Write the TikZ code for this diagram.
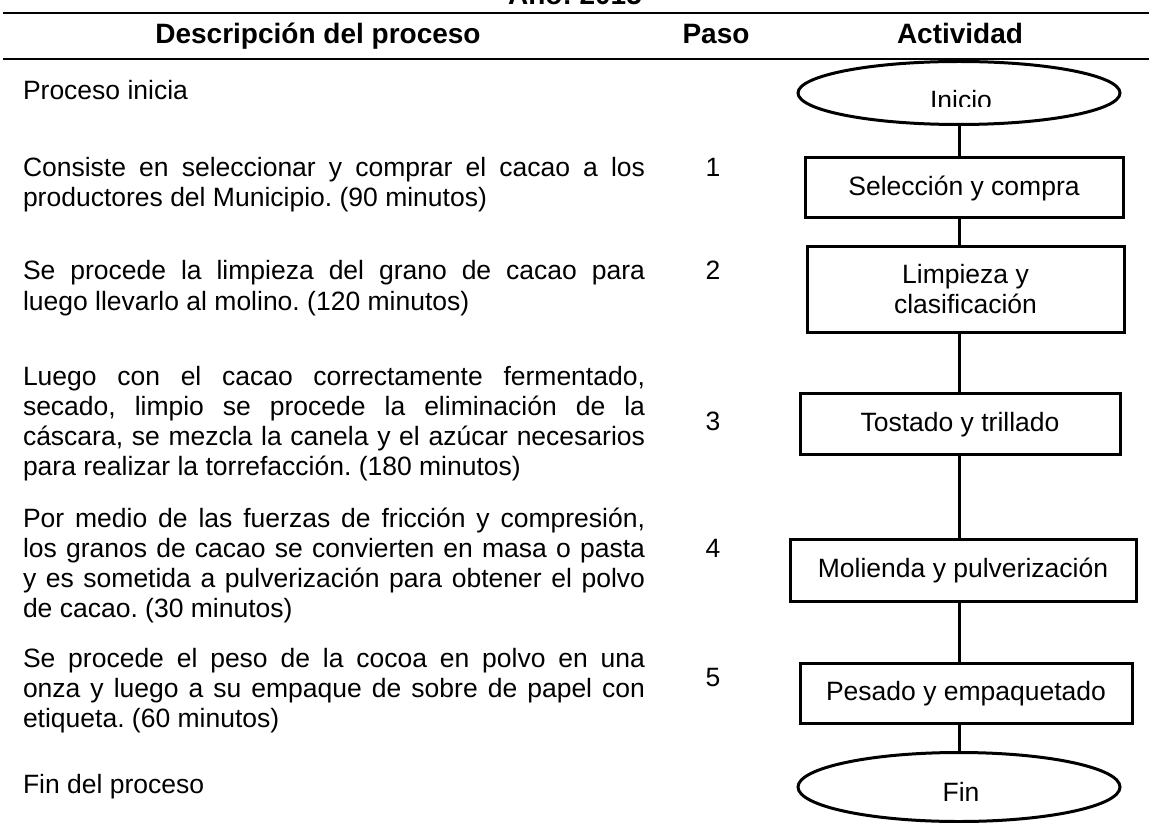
\documentclass[tikz,border=0pt]{standalone}
\usepackage{fontspec}
\setmainfont{Liberation Sans}
\usetikzlibrary{shapes.geometric}
\setlength{\parindent}{0pt}
\frenchspacing
\begin{document}
\begin{tikzpicture}[x=0.5pt,y=-0.5pt,
  every node/.style={font=\fontsize{13.25}{15}\selectfont, inner sep=0pt, outer sep=0pt},
  desc/.style={anchor=north west, text width=311pt, align=justify},
  num/.style={anchor=base},
  hdr/.style={anchor=base, font=\fontsize{14}{16}\selectfont\bfseries},
  plainbox/.style={draw, line width=1.5pt, rectangle, align=center},
  stepbox/.style={plainbox, text height=9.6pt, text depth=2pt},
  term/.style={draw, line width=1.5pt, ellipse, minimum width=161pt, minimum height=31.5pt},
  conn/.style={line width=1.5pt},
  rulel/.style={line width=1pt}]
\useasboundingbox (0,0) rectangle (1149,823);
\clip (0,0) rectangle (1149,823);

% title (cut at top) and table rules
\node[hdr] (title) at (575,5) {Año: 2015};
\draw[rulel] (3,13) -- (1149,13);
\draw[rulel] (3,59) -- (1149,59);

% header
\node[hdr] (hdesc) at (318,44) {Descripción del proceso};
\node[hdr] (hpaso) at (716,44) {Paso};
\node[hdr] (hact) at (960,44) {Actividad};

% descriptions (north = first baseline - 21)
\node[desc] (p0) at (23,79) {\strut Proceso inicia};
\node[desc] (p1) at (23,156) {\strut Consiste en seleccionar y comprar el cacao a los\linebreak productores del Municipio. (90 minutos)};
\node[desc] (p2) at (23,259) {\strut Se procede la limpieza del grano de cacao para\linebreak luego llevarlo al molino. (120 minutos)};
\node[desc] (p3) at (23,364) {\strut Luego con el cacao correctamente fermentado,\linebreak secado, limpio se procede la eliminación de la\linebreak cáscara, se mezcla la canela y el azúcar necesarios\linebreak para realizar la torrefacción. (180 minutos)};
\node[desc] (p4) at (23,506) {\strut Por medio de las fuerzas de fricción y compresión,\linebreak los granos de cacao se convierten en masa o pasta\linebreak y es sometida a pulverización para obtener el polvo\linebreak de cacao. (30 minutos)};
\node[desc] (p5) at (23,646) {\strut Se procede el peso de la cocoa en polvo en una\linebreak onza y luego a su empaque de sobre de papel con\linebreak etiqueta. (60 minutos)};
\node[desc] (p6) at (23,772) {\strut Fin del proceso};

% step numbers
\node[num] (n1) at (713,177) {1};
\node[num] (n2) at (713,280) {2};
\node[num] (n3) at (713,430) {3};
\node[num] (n4) at (713,557) {4};
\node[num] (n5) at (713,686) {5};

% flow
\node[term] (inicio) at (959,93) {};
\begin{scope}
  \clip (800,60) rectangle (1122,107);
  \node[anchor=base] (iniciotxt) at (961,110) {Inicio};
\end{scope}
\node[stepbox, minimum width=159pt, minimum height=30pt] (b1) at (964,188) {Selección y compra};
\node[plainbox, minimum width=158.5pt, minimum height=42.5pt] (b2) at (965.5,289.5) {Limpieza y\\clasificación};
\node[stepbox, minimum width=160pt, minimum height=30.5pt] (b3) at (960,423.5) {Tostado y trillado};
\node[stepbox, minimum width=173pt, minimum height=31pt] (b4) at (963,570) {Molienda y pulverización};
\node[stepbox, minimum width=166pt, minimum height=30pt] (b5) at (966,693) {Pesado y empaquetado};
\node[term, minimum height=34.5pt] (fin) at (959,787) {};
\node[anchor=base] (fintxt) at (961,801) {Fin};

\draw[conn] (inicio.south) -- (inicio.south |- b1.north);
\draw[conn] (b1.south -| inicio.south) -- (b2.north -| inicio.south);
\draw[conn] (b2.south -| inicio.south) -- (b3.north -| inicio.south);
\draw[conn] (b3.south -| inicio.south) -- (b4.north -| inicio.south);
\draw[conn] (b4.south -| inicio.south) -- (b5.north -| inicio.south);
\draw[conn] (b5.south -| inicio.south) -- (fin.north);
\end{tikzpicture}
\end{document}
